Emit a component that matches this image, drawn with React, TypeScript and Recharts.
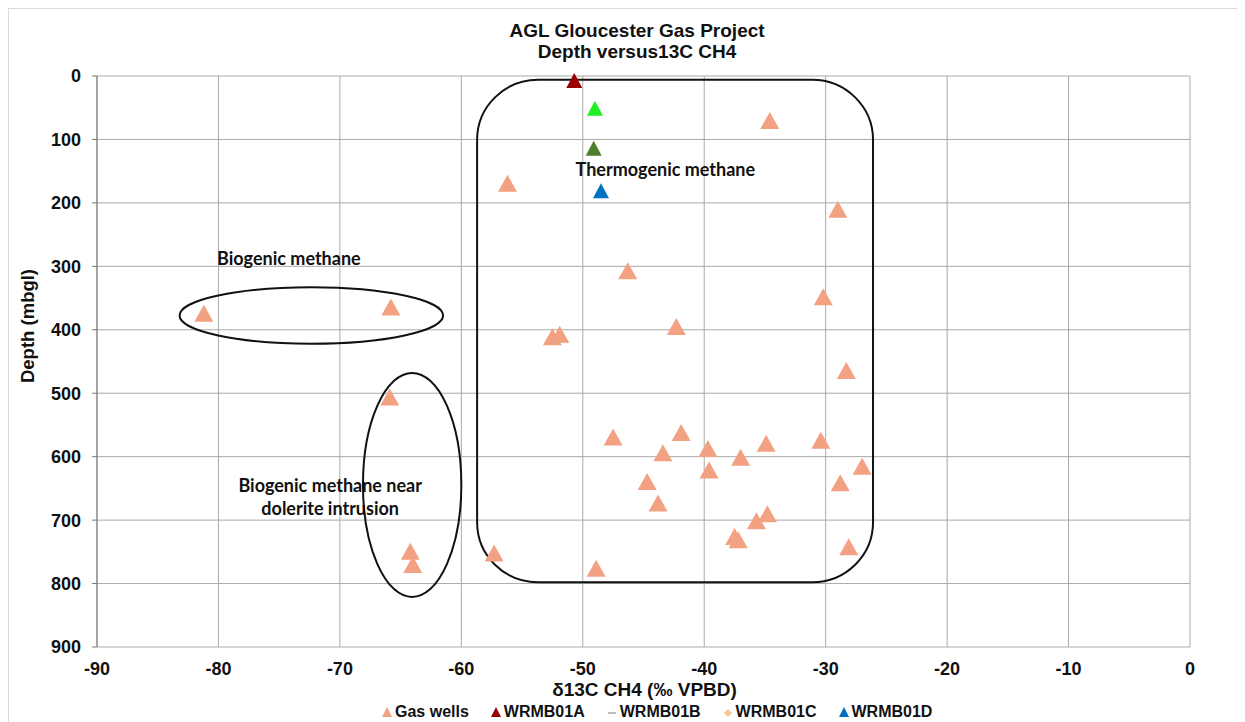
import React from 'react';
import { ScatterChart, Scatter, XAxis, YAxis, CartesianGrid, ReferenceArea, ReferenceDot } from 'recharts';

// ---- data ----
const gasWellsX = [-34.6, -56.2, -29.0, -46.3, -30.2, -81.2, -65.8, -42.3, -52.5, -51.9, -28.3, -65.9, -47.5, -41.9, -43.4, -39.7, -39.6, -37.0, -34.9, -30.4, -27.0, -28.8, -44.7, -43.8, -34.8, -35.7, -37.5, -37.2, -28.1, -57.3, -64.2, -64.0, -48.9];
const gasWellsDepth = [70, 169, 210, 307, 348, 374, 364, 395, 411, 407, 464, 506, 569, 562, 594, 587, 621, 601, 579, 574, 615, 641, 639, 673, 690, 701, 726, 731, 742, 752, 749, 770, 776];
const wrmb01aX = [-50.7];
const wrmb01aDepth = [7];
const wrmb01bX = [-49.0];
const wrmb01bDepth = [51];
const wrmb01cX = [-49.1];
const wrmb01cDepth = [114];
const wrmb01dX = [-48.5];
const wrmb01dDepth = [181];

const xTicks = [-90, -80, -70, -60, -50, -40, -30, -20, -10, 0];
const xMinorTicks = [-90, -88, -86, -84, -82, -80, -78, -76, -74, -72, -70, -68, -66, -64, -62, -60, -58, -56, -54, -52, -50, -48, -46, -44, -42, -40, -38, -36, -34, -32, -30, -28, -26, -24, -22, -20, -18, -16, -14, -12, -10, -8, -6, -4, -2, 0];
const yTicks = [0, 100, 200, 300, 400, 500, 600, 700, 800, 900];

// annotation regions (data coordinates)
const thermoBox = { x1: -58.7, x2: -26.1, y1: 6, y2: 798 };
const biogenicEllipse = { x1: -83.2, x2: -61.5, y1: 333, y2: 422 };
const doleriteEllipse = { x1: -68.1, x2: -60.0, y1: 468, y2: 821 };

const annotations = [
  { x: -43.2, y: 147, text: 'Thermogenic methane' },
  { x: -74.2, y: 287, text: 'Biogenic methane' },
  { x: -70.8, y: 645, text: 'Biogenic methane near' },
  { x: -70.8, y: 681, text: 'dolerite intrusion' },
];

const zip = (xs: number[], ys: number[]) => xs.map((x, i) => ({ x, y: ys[i] }));
const gasWells = zip(gasWellsX, gasWellsDepth);
const wrmb01a = zip(wrmb01aX, wrmb01aDepth);
const wrmb01b = zip(wrmb01bX, wrmb01bDepth);
const wrmb01c = zip(wrmb01cX, wrmb01cDepth);
const wrmb01d = zip(wrmb01dX, wrmb01dDepth);

const ARIAL = "'Liberation Sans', Arial, sans-serif";
const CALIBRI = "Lato, 'Open Sans', sans-serif";

const COLORS = {
  gas: '#F2A283',
  a: '#990000',
  b: '#22EE22',
  c: '#4F7F2C',
  d: '#0070C0',
};

const makeTri = (w: number, h: number) => (props: any) => {
  const { cx, cy, fill } = props;
  if (cx == null || cy == null) return <g />;
  const d = `M${cx},${cy - h / 2} L${cx + w / 2},${cy + h / 2} L${cx - w / 2},${cy + h / 2} Z`;
  return <path d={d} fill={fill} stroke="none" />;
};

const bigTri = makeTri(19, 17);
const smallTri = makeTri(16, 15);

const ellipseShape = (props: any) => {
  const { x, y, width, height } = props;
  return (
    <ellipse cx={x + width / 2} cy={y + height / 2} rx={Math.abs(width) / 2} ry={Math.abs(height) / 2}
      fill="none" stroke="#111" strokeWidth={2} />
  );
};

const roundRectShape = (props: any) => {
  const { x, y, width, height } = props;
  return <rect x={x} y={y} width={width} height={height} rx={61} ry={60} fill="none" stroke="#111" strokeWidth={2} />;
};

const textShape = (text: string) => (props: any) => {
  const { cx, cy } = props;
  return (
    <text x={cx} y={cy} textAnchor="middle" dominantBaseline="central" fontFamily={CALIBRI}
      fontWeight={700} fontSize={18} fill="#111">{text}</text>
  );
};

const legendItems = [
  { label: 'Gas wells', kind: 'tri', color: COLORS.gas },
  { label: 'WRMB01A', kind: 'tri', color: COLORS.a },
  { label: 'WRMB01B', kind: 'dash', color: '#bfbfbf' },
  { label: 'WRMB01C', kind: 'diamond', color: '#FAC58F' },
  { label: 'WRMB01D', kind: 'tri', color: COLORS.d },
];

const LegendMarker = ({ kind, color }: { kind: string; color: string }) => (
  <svg width={10} height={10} style={{ marginRight: 3, overflow: 'visible' }}>
    {kind === 'tri' && <path d="M5,0 L10,10 L0,10 Z" fill={color} />}
    {kind === 'dash' && <rect x={1} y={5} width={8} height={2} fill={color} />}
    {kind === 'diamond' && <path d="M5,2 L9,6 L5,10 L1,6 Z" fill={color} />}
  </svg>
);

export default function App() {
  return (
    <div style={{ position: 'relative', width: 1237, height: 714, fontFamily: ARIAL, overflow: 'hidden' }}>
      <div style={{ position: 'absolute', left: 0, top: 0, width: 1300, height: 800, borderLeft: '1px solid #d9d9d9', borderTop: '1px solid #d9d9d9', boxSizing: 'border-box' }} />
      <div style={{ position: 'absolute', left: 0, width: 1258, top: 12, textAlign: 'center', fontWeight: 700, fontSize: 19, lineHeight: '21px', color: '#111' }}>
        <div>AGL Gloucester Gas Project</div>
        <div>Depth versus13C CH4</div>
      </div>
      <ScatterChart width={1237} height={714} margin={{ top: 68, right: 55, bottom: 0, left: 0 }} style={{ position: 'absolute', left: 0, top: 0 }}>
        <CartesianGrid stroke="#a9a9a9" strokeWidth={1} />
        <XAxis dataKey="x" type="number" domain={[-90, 0]} ticks={xTicks} orientation="bottom" height={75}
          axisLine={false} tickLine={false} tickSize={0} tickMargin={15} interval={0}
          tick={{ fontFamily: ARIAL, fontWeight: 700, fontSize: 18, fill: '#111' }} allowDataOverflow />
        <XAxis xAxisId="top" dataKey="x" type="number" domain={[-90, 0]} ticks={xMinorTicks} orientation="top" height={0} mirror
          axisLine={{ stroke: '#555', strokeWidth: 1.5 }} tickLine={{ stroke: '#555' }} tickSize={5} tick={false} interval={0} />
        <YAxis dataKey="y" type="number" domain={[0, 900]} ticks={yTicks} reversed width={89} interval={0}
          axisLine={{ stroke: '#777' }} tickLine={{ stroke: '#777' }} tickSize={5} tickMargin={11}
          tick={{ fontFamily: ARIAL, fontWeight: 700, fontSize: 18, fill: '#111' }} />
        <Scatter name="Gas wells" data={gasWells} fill={COLORS.gas} shape={bigTri} isAnimationActive={false} />
        <Scatter name="WRMB01A" data={wrmb01a} fill={COLORS.a} shape={smallTri} isAnimationActive={false} />
        <Scatter name="WRMB01B" data={wrmb01b} fill={COLORS.b} shape={smallTri} isAnimationActive={false} />
        <Scatter name="WRMB01C" data={wrmb01c} fill={COLORS.c} shape={smallTri} isAnimationActive={false} />
        <Scatter name="WRMB01D" data={wrmb01d} fill={COLORS.d} shape={smallTri} isAnimationActive={false} />
        <ReferenceArea {...thermoBox} shape={roundRectShape} ifOverflow="visible" />
        <ReferenceArea {...biogenicEllipse} shape={ellipseShape} ifOverflow="visible" />
        <ReferenceArea {...doleriteEllipse} shape={ellipseShape} ifOverflow="visible" />
        {annotations.map((a) => (
          <ReferenceDot key={a.text} x={a.x} y={a.y} r={0} shape={textShape(a.text)} ifOverflow="visible" />
        ))}
      </ScatterChart>
      <div style={{ position: 'absolute', top: 671, left: 0, width: 1273, textAlign: 'center', fontWeight: 700, fontSize: 19, color: '#111' }}>
        δ13C CH4 (‰ VPBD)
      </div>
      <div style={{ position: 'absolute', left: 20, top: 318, transform: 'translate(-50%, -50%) rotate(-90deg)', whiteSpace: 'nowrap', fontWeight: 700, fontSize: 18.5, color: '#111' }}>
        Depth (mbgl)
      </div>
      <div style={{ position: 'absolute', top: 695, left: 374, display: 'flex', alignItems: 'baseline', fontWeight: 700, fontSize: 16, lineHeight: '17px', color: '#111', whiteSpace: 'nowrap' }}>
        {legendItems.map((it) => (
          <div key={it.label} style={{ display: 'flex', alignItems: 'baseline', marginRight: 22 }}>
            <LegendMarker kind={it.kind} color={it.color} />
            <span>{it.label}</span>
          </div>
        ))}
      </div>
    </div>
  );
}
